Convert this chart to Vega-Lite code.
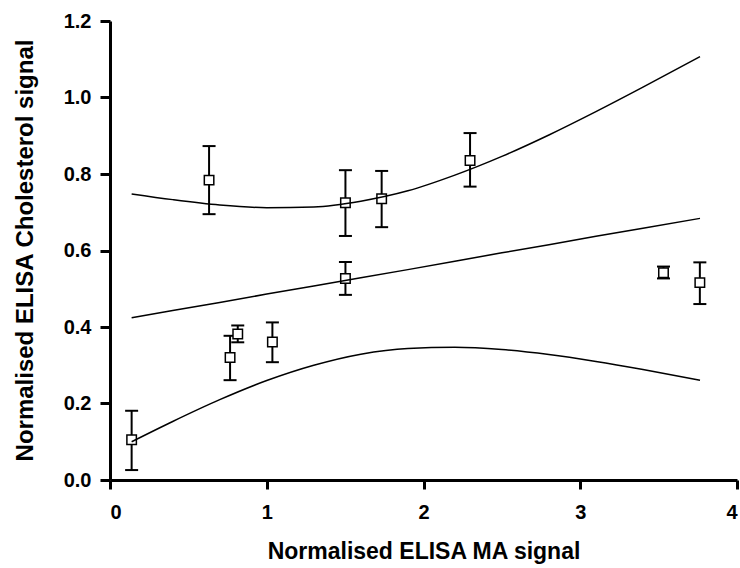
{
  "$schema": "https://vega.github.io/schema/vega-lite/v6.json",
  "width": 627,
  "height": 459,
  "autosize": {"type": "none"},
  "padding": {"left": 110, "top": 21, "right": 3, "bottom": 88},
  "background": "white",
  "config": {
    "view": {"stroke": null},
    "axis": {
      "grid": false,
      "domainColor": "black",
      "domainWidth": 3,
      "tickColor": "black",
      "tickWidth": 3,
      "labelFont": "Liberation Sans",
      "labelFontWeight": "bold",
      "labelFontSize": 20,
      "labelColor": "black",
      "titleFont": "Liberation Sans",
      "titleFontWeight": "bold",
      "titleColor": "black"
    }
  },
  "datasets": {
    "pts": [
      {"x": 0.138, "y": 0.105, "lo": 0.026, "hi": 0.181},
      {"x": 0.766, "y": 0.320, "lo": 0.261, "hi": 0.377},
      {"x": 0.815, "y": 0.382, "lo": 0.360, "hi": 0.404},
      {"x": 1.036, "y": 0.361, "lo": 0.308, "hi": 0.412},
      {"x": 0.632, "y": 0.784, "lo": 0.695, "hi": 0.873},
      {"x": 1.502, "y": 0.725, "lo": 0.638, "hi": 0.810},
      {"x": 1.733, "y": 0.735, "lo": 0.661, "hi": 0.808},
      {"x": 2.297, "y": 0.835, "lo": 0.767, "hi": 0.907},
      {"x": 1.502, "y": 0.527, "lo": 0.484, "hi": 0.570},
      {"x": 3.531, "y": 0.542, "lo": 0.527, "hi": 0.558},
      {"x": 3.763, "y": 0.516, "lo": 0.460, "hi": 0.569}
    ],
    "curve": [
      {"x": 0.138, "fit": 0.424, "upper": 0.748, "lower": 0.100},
      {"x": 0.4, "fit": 0.443, "upper": 0.733, "lower": 0.153},
      {"x": 0.7, "fit": 0.464, "upper": 0.719, "lower": 0.210},
      {"x": 1.0, "fit": 0.486, "upper": 0.712, "lower": 0.260},
      {"x": 1.3, "fit": 0.507, "upper": 0.714, "lower": 0.300},
      {"x": 1.6, "fit": 0.529, "upper": 0.729, "lower": 0.329},
      {"x": 1.9, "fit": 0.550, "upper": 0.756, "lower": 0.344},
      {"x": 2.2, "fit": 0.572, "upper": 0.797, "lower": 0.347},
      {"x": 2.5, "fit": 0.594, "upper": 0.846, "lower": 0.341},
      {"x": 2.8, "fit": 0.615, "upper": 0.902, "lower": 0.328},
      {"x": 3.1, "fit": 0.637, "upper": 0.963, "lower": 0.310},
      {"x": 3.4, "fit": 0.658, "upper": 1.027, "lower": 0.289},
      {"x": 3.764, "fit": 0.684, "upper": 1.107, "lower": 0.261}
    ]
  },
  "encoding": {
    "x": {
      "field": "x",
      "type": "quantitative",
      "scale": {"domain": [0, 4], "nice": false, "zero": false},
      "axis": {
        "values": [0, 1, 2, 3, 4],
        "format": "d",
        "tickSize": 9,
        "labelPadding": 13,
        "title": "Normalised ELISA MA signal",
        "titleFontSize": 23,
        "titleBaseline": "alphabetic",
        "titleY": 78
      }
    }
  },
  "layer": [
    {
      "data": {"name": "pts"},
      "mark": {"type": "rule", "color": "black", "strokeWidth": 2},
      "encoding": {
        "y": {
          "field": "lo",
          "type": "quantitative",
          "scale": {"domain": [0, 1.2], "nice": false, "zero": false},
          "axis": {
            "values": [0, 0.2, 0.4, 0.6, 0.8, 1.0, 1.2],
            "format": ".1f",
            "tickSize": 10,
            "labelPadding": 9,
            "title": "Normalised ELISA Cholesterol signal",
            "titleFontSize": 24,
            "titleAngle": -90,
            "titleBaseline": "alphabetic",
            "titleAlign": "center",
            "titleX": -78,
            "titleY": 229
          }
        },
        "y2": {"field": "hi"}
      }
    },
    {
      "data": {"name": "pts"},
      "mark": {"type": "tick", "orient": "horizontal", "color": "black", "size": 13, "thickness": 2, "opacity": 1},
      "encoding": {"y": {"field": "hi", "type": "quantitative"}}
    },
    {
      "data": {"name": "pts"},
      "mark": {"type": "tick", "orient": "horizontal", "color": "black", "size": 13, "thickness": 2, "opacity": 1},
      "encoding": {"y": {"field": "lo", "type": "quantitative"}}
    },
    {
      "data": {"name": "pts"},
      "mark": {"type": "point", "shape": "square", "size": 90, "filled": true, "fill": "white", "stroke": "black", "strokeWidth": 1.5, "opacity": 1},
      "encoding": {"y": {"field": "y", "type": "quantitative"}}
    },
    {
      "data": {"name": "curve"},
      "mark": {"type": "line", "color": "black", "strokeWidth": 1.5, "interpolate": "monotone"},
      "encoding": {"y": {"field": "upper", "type": "quantitative"}}
    },
    {
      "data": {"name": "curve"},
      "mark": {"type": "line", "color": "black", "strokeWidth": 1.5, "interpolate": "monotone"},
      "encoding": {"y": {"field": "lower", "type": "quantitative"}}
    },
    {
      "data": {"name": "curve"},
      "mark": {"type": "line", "color": "black", "strokeWidth": 1.5},
      "encoding": {"y": {"field": "fit", "type": "quantitative"}}
    }
  ]
}
